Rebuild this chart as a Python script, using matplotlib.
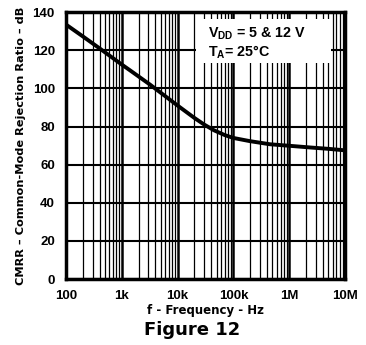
import matplotlib
matplotlib.use("Agg")
import matplotlib.pyplot as plt
from matplotlib.patches import Rectangle

plt.rcParams['font.family'] = ['Liberation Sans', 'DejaVu Sans']
plt.rcParams['font.weight'] = 'bold'
plt.rcParams['mathtext.fontset'] = 'custom'
plt.rcParams['mathtext.rm'] = 'Liberation Sans:bold'
plt.rcParams['mathtext.it'] = 'Liberation Sans:bold'
plt.rcParams['mathtext.bf'] = 'Liberation Sans:bold'

freq_hz = [100, 200, 400, 1000, 1400, 3200, 10000, 20000, 30000, 45000,
           70000, 100000, 150000, 200000, 450000, 1000000, 2400000,
           5000000, 10000000]
cmrr_db = [133.5, 127.3, 121, 112.5, 109.5, 102, 91, 84.5, 81, 78,
           75.5, 74, 73, 72.3, 70.7, 69.9, 69, 68.3, 67.5]

x_ticks = [100, 1e3, 1e4, 1e5, 1e6, 1e7]
x_labels = ['100', '1k', '10k', '100k', '1M', '10M']
y_ticks = [0, 20, 40, 60, 80, 100, 120, 140]

fig = plt.figure(figsize=(3.66, 3.45), dpi=100)
ax = fig.add_axes([0.180, 0.191, 0.763, 0.774])
ax.set_xscale('log')
ax.set_xlim(100, 1e7)
ax.set_ylim(0, 140)

# grid
for dec in [100, 1e3, 1e4, 1e5, 1e6]:
    for m in range(2, 10):
        ax.axvline(dec * m, color='black', lw=0.9, zorder=1)
for xt in x_ticks:
    ax.axvline(xt, color='black', lw=1.8, zorder=1)
for yt in y_ticks:
    ax.axhline(yt, color='black', lw=1.5, zorder=1)

# annotation box covering grid
ax.add_patch(Rectangle((0.466, 0.809), 0.484, 0.165, transform=ax.transAxes,
                       facecolor='white', edgecolor='none', zorder=2))
ax.text(0.51, 0.92, r'$\mathrm{V_{DD}}$ = 5 & 12 V', transform=ax.transAxes,
        fontsize=10.3, fontweight='bold', zorder=3, va='center')
ax.text(0.51, 0.85, r'$\mathrm{T_{A}}$= 25°C', transform=ax.transAxes,
        fontsize=10.3, fontweight='bold', zorder=3, va='center')

ax.plot(freq_hz, cmrr_db, color='black', lw=2.8, zorder=4,
        solid_capstyle='butt', solid_joinstyle='round')

ax.set_xticks(x_ticks)
ax.set_xticklabels(x_labels)
ax.set_xticks([], minor=True)
ax.set_yticks(y_ticks)
ax.tick_params(length=0, labelsize=9.5, pad=8)
for lab in ax.get_xticklabels() + ax.get_yticklabels():
    lab.set_fontweight('bold')
for sp in ax.spines.values():
    sp.set_linewidth(2.5)
    sp.set_zorder(5)

ax.set_xlabel('f - Frequency - Hz', fontsize=8.5, fontweight='bold',
              family='DejaVu Sans', labelpad=1)
ax.set_ylabel('CMRR – Common-Mode Rejection Ratio – dB', fontsize=8.2,
              fontweight='bold', family='DejaVu Sans', labelpad=5)
fig.text(0.525, 0.03, 'Figure 12', fontsize=13, fontweight='bold',
         family='DejaVu Sans', ha='center')

fig.savefig('out.png', dpi=100)
